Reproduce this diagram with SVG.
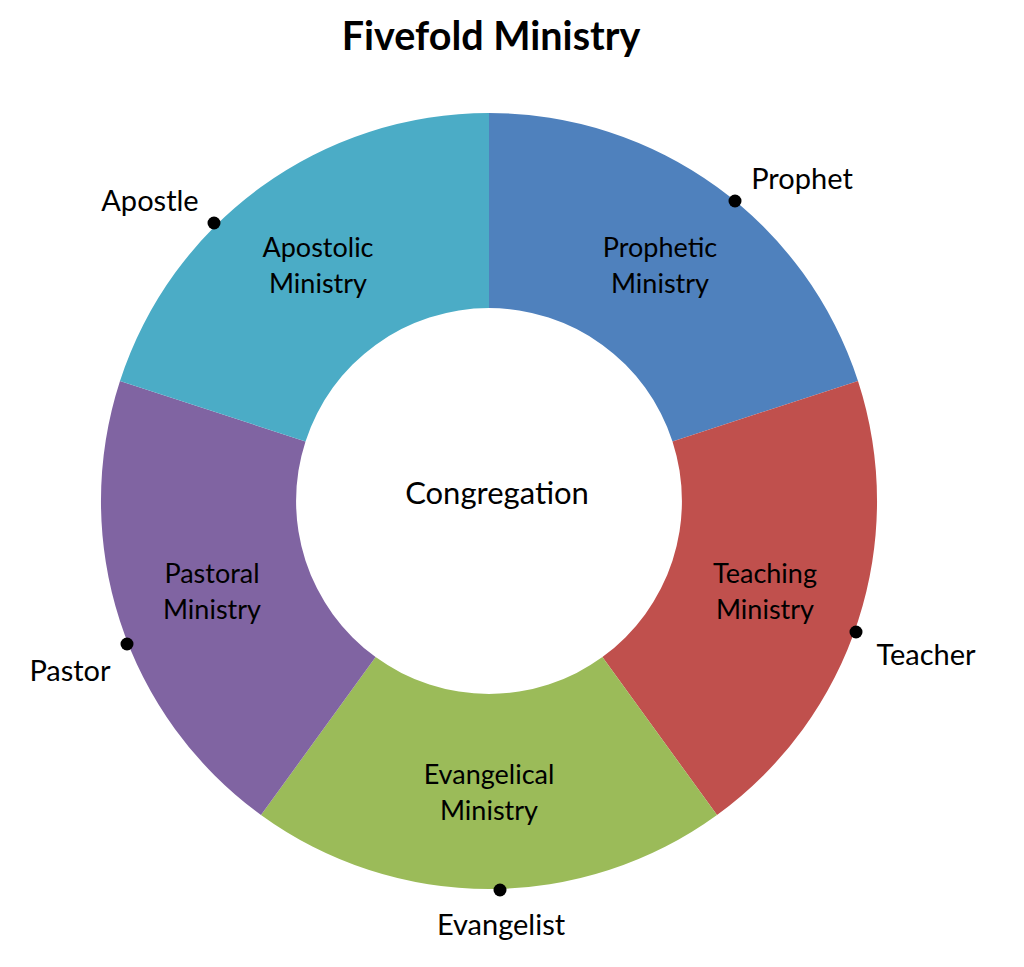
<svg xmlns="http://www.w3.org/2000/svg" width="1024" height="967" viewBox="0 0 1024 967">
<style>
text{font-family:Lato,"Open Sans","Liberation Sans",sans-serif;fill:#000;text-anchor:middle}
.t{font-size:27px}
.c{font-size:31px}
.l{font-size:29px}
.title{font-size:39.5px;font-weight:bold}
.dot{fill:#000}
</style>
<rect width="1024" height="967" fill="#fff"/>
<text class="title" x="491" y="50">Fivefold Ministry</text>
<g id="prophetic">
<path d="M489,113 A388,388 0 0 1 858,381 L672.5,441.4 A193,193 0 0 0 489,308 Z" fill="#4F81BD"/>
<text class="t" x="660" y="257">Prophetic</text><text class="t" x="660" y="293">Ministry</text>
</g>
<g id="teaching">
<path d="M858,381 A388,388 0 0 1 717,815 L602.4,657.1 A193,193 0 0 0 672.5,441.4 Z" fill="#C0504D"/>
<text class="t" x="765" y="583">Teaching</text><text class="t" x="765" y="619">Ministry</text>
</g>
<g id="evangelical">
<path d="M717,815 A388,388 0 0 1 261,815 L375.6,657.1 A193,193 0 0 0 602.4,657.1 Z" fill="#9BBB59"/>
<text class="t" x="489" y="784">Evangelical</text><text class="t" x="489" y="820">Ministry</text>
</g>
<g id="pastoral">
<path d="M261,815 A388,388 0 0 1 120,381 L305.5,441.4 A193,193 0 0 0 375.6,657.1 Z" fill="#8064A2"/>
<text class="t" x="212" y="583">Pastoral</text><text class="t" x="212" y="619">Ministry</text>
</g>
<g id="apostolic">
<path d="M120,381 A388,388 0 0 1 489,113 L489,308 A193,193 0 0 0 305.5,441.4 Z" fill="#4BACC6"/>
<text class="t" x="318" y="257">Apostolic</text><text class="t" x="318" y="293">Ministry</text>
</g>
<g id="congregation">
<text class="c" x="497" y="504">Congregation</text>
</g>
<g id="connectors">
<circle class="dot" cx="735" cy="201" r="6.5"/>
<circle class="dot" cx="214" cy="223" r="6.5"/>
<circle class="dot" cx="856" cy="632" r="6.5"/>
<circle class="dot" cx="500" cy="890" r="6.5"/>
<circle class="dot" cx="127" cy="644" r="6.5"/>
</g>
<g id="prophet"><text class="l" x="802" y="189">Prophet</text></g>
<g id="apostle"><text class="l" x="150" y="211">Apostle</text></g>
<g id="teacher"><text class="l" x="926" y="665">Teacher</text></g>
<g id="pastor"><text class="l" x="70" y="681">Pastor</text></g>
<g id="evangelist"><text class="l" x="501" y="935">Evangelist</text></g>
</svg>
